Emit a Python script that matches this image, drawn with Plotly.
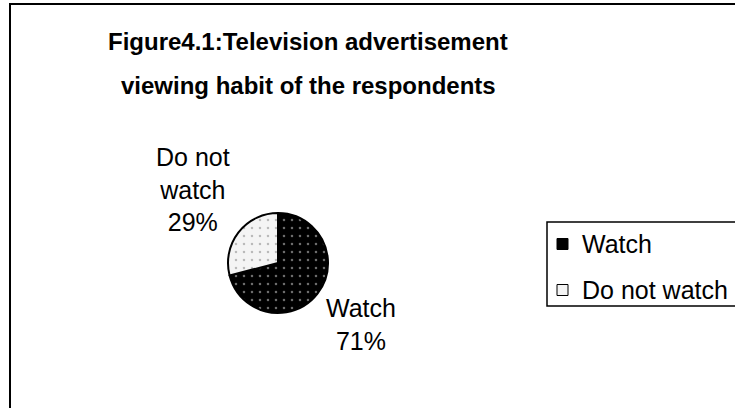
import plotly.graph_objects as go

# Survey result: share of respondents who watch TV advertisements
labels = ["Watch", "Do not watch"]
shares = [71, 29]
label_text = ["Watch", "Do not<br>watch"]
title_lines = ["Figure4.1:Television advertisement",
               "viewing habit of the respondents"]

W, H = 735, 408
FONT = "Arial, Liberation Sans, sans-serif"
slice_bg = ["#000000", "#f4f4f4"]
slice_dots = ["#d8d8d8", "#808080"]


def px_x(x):
    return x / W


def px_y(y):
    return 1 - y / H


fig = go.Figure()

fig.add_trace(go.Pie(
    labels=labels,
    values=shares,
    sort=False,
    direction="clockwise",
    rotation=0,
    textinfo="none",
    hoverinfo="label+percent",
    showlegend=False,
    marker=dict(
        colors=slice_bg,
        line=dict(color="#000000", width=2),
        pattern=dict(
            shape=[".", "."],
            bgcolor=slice_bg,
            fgcolor=slice_dots,
            size=8,
            solidity=0.08,
            fillmode="overlay",
        ),
    ),
    domain=dict(x=[px_x(228), px_x(328)], y=[px_y(314), px_y(212)]),
))

# Title, two bold lines
for line, y in zip(title_lines, [42, 85]):
    fig.add_annotation(
        x=px_x(308), y=px_y(y), xref="paper", yref="paper",
        text=f"<b>{line}</b>", showarrow=False,
        font=dict(family=FONT, size=24, color="#000000"),
        xanchor="center", yanchor="middle",
    )

# Outside slice labels built from the data values
label_pos = {"Do not watch": (193, 189), "Watch": (361, 324)}
for lab, txt, val in zip(labels, label_text, shares):
    x, y = label_pos[lab]
    fig.add_annotation(
        x=px_x(x), y=px_y(y), xref="paper", yref="paper",
        text=f"{txt}<br>{val}%", showarrow=False,
        font=dict(family=FONT, size=25, color="#000000"),
        align="center", xanchor="center", yanchor="middle",
    )

# Legend: framed box with a square key per slice
fig.add_shape(
    type="rect", xref="paper", yref="paper",
    x0=px_x(547), x1=px_x(745), y0=px_y(306), y1=px_y(222),
    line=dict(color="#000000", width=1.5), fillcolor="#ffffff",
)
for lab, bg, yc in zip(labels, slice_bg, [244, 290]):
    fig.add_shape(
        type="rect", xref="paper", yref="paper",
        x0=px_x(557), x1=px_x(568), y0=px_y(yc + 5.5), y1=px_y(yc - 5.5),
        line=dict(color="#000000", width=1), fillcolor=bg,
    )
    fig.add_annotation(
        x=px_x(580), y=px_y(yc), xref="paper", yref="paper",
        text=lab, showarrow=False,
        font=dict(family=FONT, size=25, color="#000000"),
        xanchor="left", yanchor="middle",
    )

# Outer chart frame (runs past the right and bottom edges)
fig.add_shape(
    type="rect", xref="paper", yref="paper",
    x0=px_x(10), x1=1.05, y0=-0.05, y1=px_y(4),
    line=dict(color="#000000", width=2), fillcolor="rgba(0,0,0,0)",
)

fig.update_layout(
    width=W, height=H,
    margin=dict(l=0, r=0, t=0, b=0),
    paper_bgcolor="#ffffff",
    plot_bgcolor="#ffffff",
    showlegend=False,
)

fig.write_html("out.html")
